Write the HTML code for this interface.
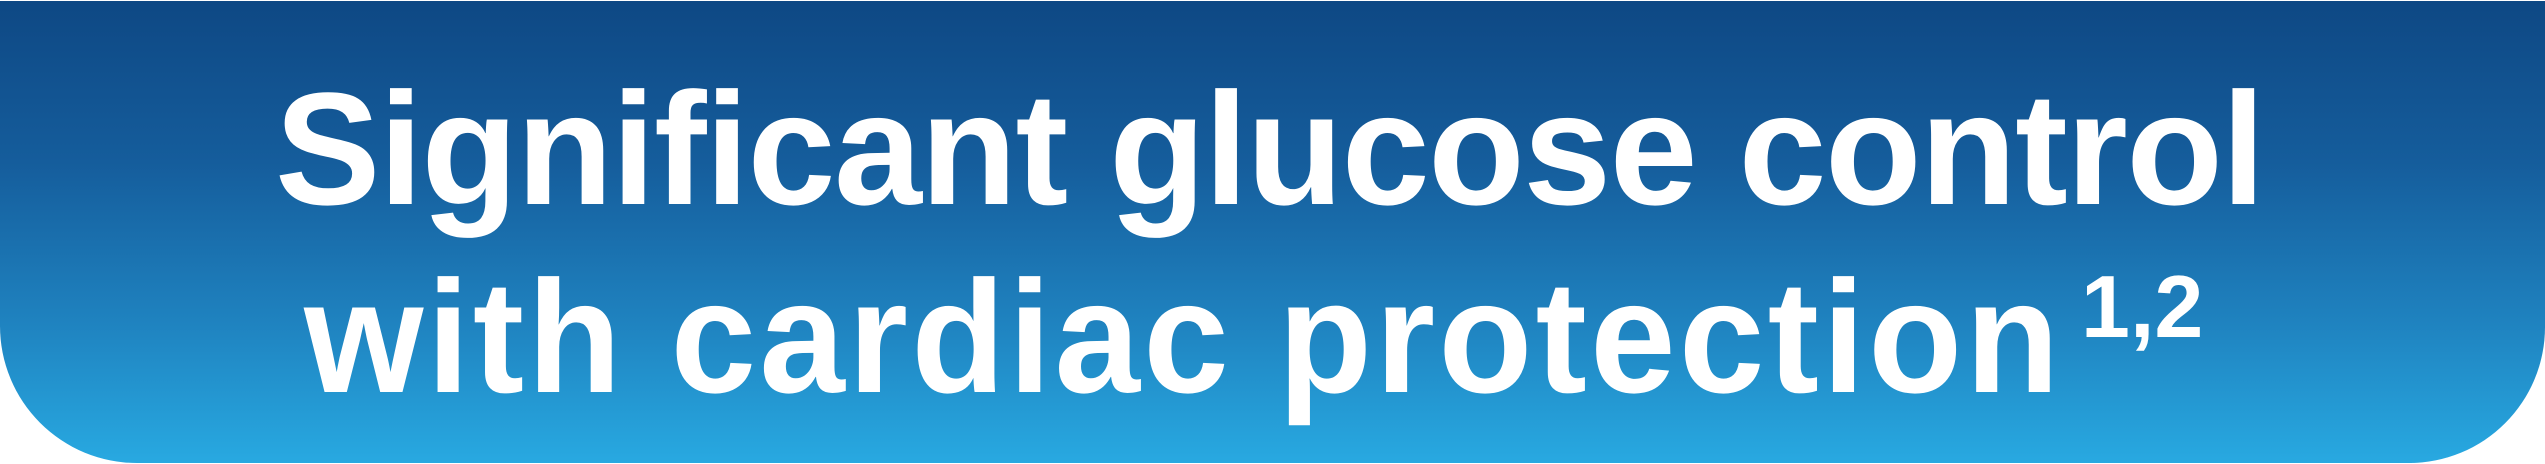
<!DOCTYPE html>
<html><head><meta charset="utf-8"><style>
html,body{margin:0;padding:0;background:#fff;width:2545px;height:464px;overflow:hidden;}
#banner{position:absolute;left:0;top:1px;width:2545px;height:462px;
background:linear-gradient(to bottom,#0e4884 0%,#155d9c 35%,#1f83c0 70%,#28a9e1 100%);
border-radius:0 0 136px 137px;overflow:hidden;}
.t{position:absolute;color:#fff;font-family:"Liberation Sans",sans-serif;font-weight:bold;white-space:nowrap;line-height:1;transform-origin:0 0;}
</style></head><body>
<div id="banner">
<div class="t" style="left:275px;top:68px;font-size:160px;letter-spacing:-1.5px;transform:scaleX(0.988);">Significant glucose control</div>
<div class="t" style="left:304px;top:256px;font-size:160px;letter-spacing:3.5px;transform:scaleX(0.96);">with cardiac protection</div>
<div class="t" style="left:2081px;top:262px;font-size:88px;letter-spacing:0px;">1,2</div>
</div>
</body></html>
